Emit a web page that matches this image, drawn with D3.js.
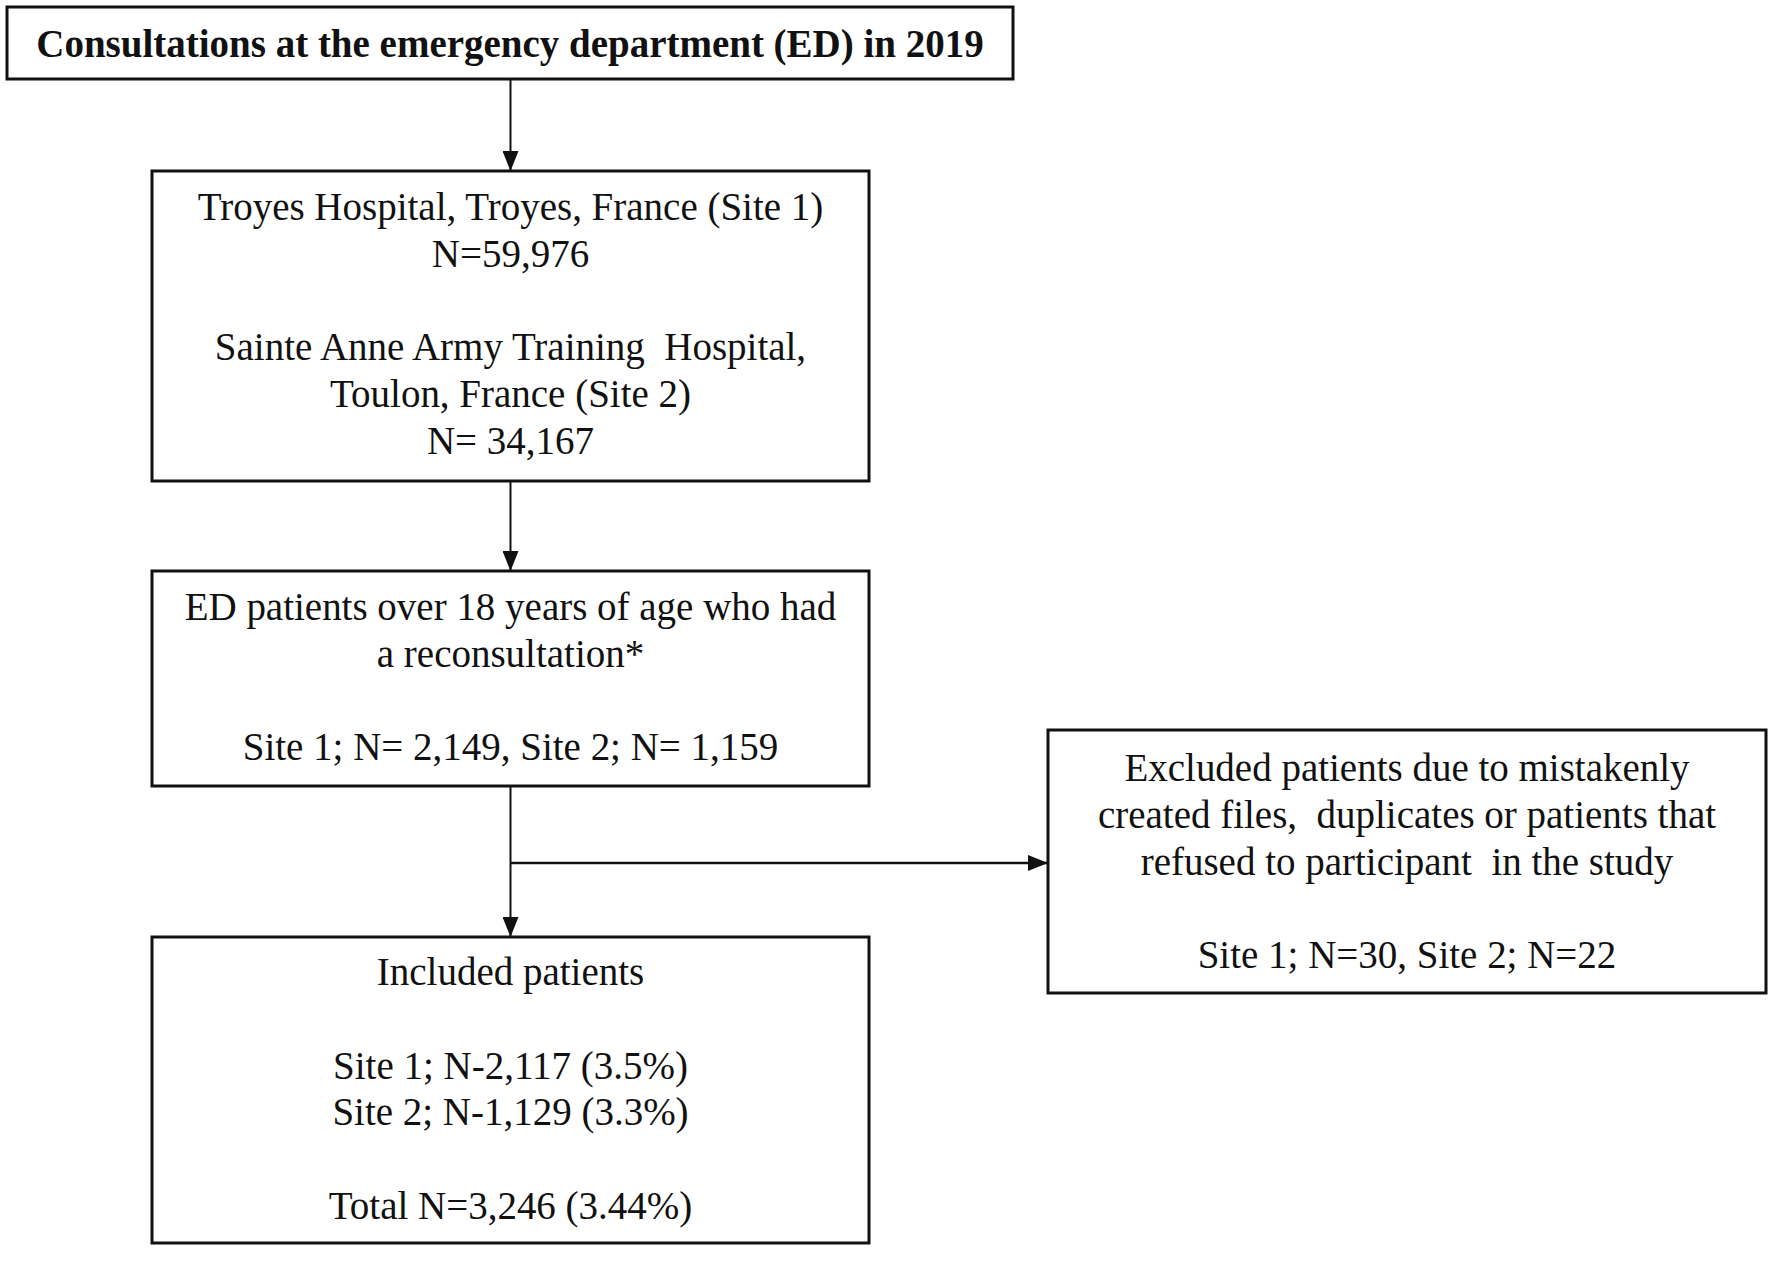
<!DOCTYPE html>
<html>
<head>
<meta charset="utf-8">
<script src="https://cdn.jsdelivr.net/npm/d3@7"></script>
<style>
  body { margin: 0; background: #fff; }
  text { font-family: "Liberation Serif", "Times New Roman", serif; fill: #111; }
</style>
</head>
<body>
<svg width="1772" height="1265"></svg>
<script>
// box contents (one entry per text line, "" = blank line)
const titleLines = ["Consultations at the emergency department (ED) in 2019"];
const siteLines = ["Troyes Hospital, Troyes, France (Site 1)", "N=59,976", "",
  "Sainte Anne Army Training  Hospital,", "Toulon, France (Site 2)", "N= 34,167"];
const reconsultLines = ["ED patients over 18 years of age who had", "a reconsultation*", "",
  "Site 1; N= 2,149, Site 2; N= 1,159"];
const excludedLines = ["Excluded patients due to mistakenly", "created files,  duplicates or patients that",
  "refused to participant  in the study", "", "Site 1; N=30, Site 2; N=22"];
const includedLines = ["Included patients", "", "Site 1; N-2,117 (3.5%)", "Site 2; N-1,129 (3.3%)", "",
  "Total N=3,246 (3.44%)"];

const svg = d3.select("svg");
const fontSize = 39;
const lineGap = 46.8;
const stretch = 1.05; // glyphs in the source are a little taller than wide

// layout of the flow, in page pixels
const boxes = [
  { id: "title", lines: titleLines, x0: 7, x1: 1013, y0: 7, y1: 79, bold: true, first: 50 },
  { id: "sites", lines: siteLines, x0: 152, x1: 869, y0: 171, y1: 481, first: 49 },
  { id: "recon", lines: reconsultLines, x0: 152, x1: 869, y0: 571, y1: 786, first: 49 },
  { id: "incl", lines: includedLines, x0: 152, x1: 869, y0: 937, y1: 1243, first: 48 },
  { id: "excl", lines: excludedLines, x0: 1048, x1: 1766, y0: 730, y1: 993, first: 51 }
];
const byId = Object.fromEntries(boxes.map(b => [b.id, b]));

svg.append("defs").append("marker")
  .attr("id", "head")
  .attr("viewBox", "0 0 20 16")
  .attr("refX", 20).attr("refY", 8)
  .attr("markerWidth", 20).attr("markerHeight", 16)
  .attr("markerUnits", "userSpaceOnUse")
  .attr("orient", "auto")
  .append("path").attr("d", "M0,0L20,8L0,16Z").attr("fill", "#111");

const g = svg.append("g");

const box = g.selectAll(".box").data(boxes).enter().append("g").attr("class", "box");
box.append("rect")
  .attr("x", d => d.x0).attr("y", d => d.y0)
  .attr("width", d => d.x1 - d.x0).attr("height", d => d.y1 - d.y0)
  .attr("fill", "#fff").attr("stroke", "#111").attr("stroke-width", 3);

box.each(function(d) {
  const cx = (d.x0 + d.x1) / 2;
  d3.select(this).selectAll("text").data(d.lines.map((t, i) => ({ t, i })).filter(l => l.t !== ""))
    .enter().append("text")
    .attr("transform", l => `translate(${cx},${d.y0 + d.first + l.i * lineGap}) scale(1,${stretch})`)
    .attr("text-anchor", "middle")
    .attr("font-size", fontSize)
    .attr("font-weight", d.bold ? "bold" : "normal")
    .style("white-space", "pre")
    .text(l => l.t);
});

// connectors
const midX = (byId.sites.x0 + byId.sites.x1) / 2;
const branchY = 863;
const links = [
  [[midX, byId.title.y1], [midX, byId.sites.y0]],
  [[midX, byId.sites.y1], [midX, byId.recon.y0]],
  [[midX, byId.recon.y1], [midX, byId.incl.y0]],
  [[midX, branchY], [byId.excl.x0, branchY]]
];
const line = d3.line();
g.selectAll(".link").data(links).enter().append("path")
  .attr("class", "link")
  .attr("d", line)
  .attr("fill", "none")
  .attr("stroke", "#111")
  .attr("stroke-width", (d, i) => i === 3 ? 2.5 : 2)
  .attr("marker-end", "url(#head)");
</script>
</body>
</html>
